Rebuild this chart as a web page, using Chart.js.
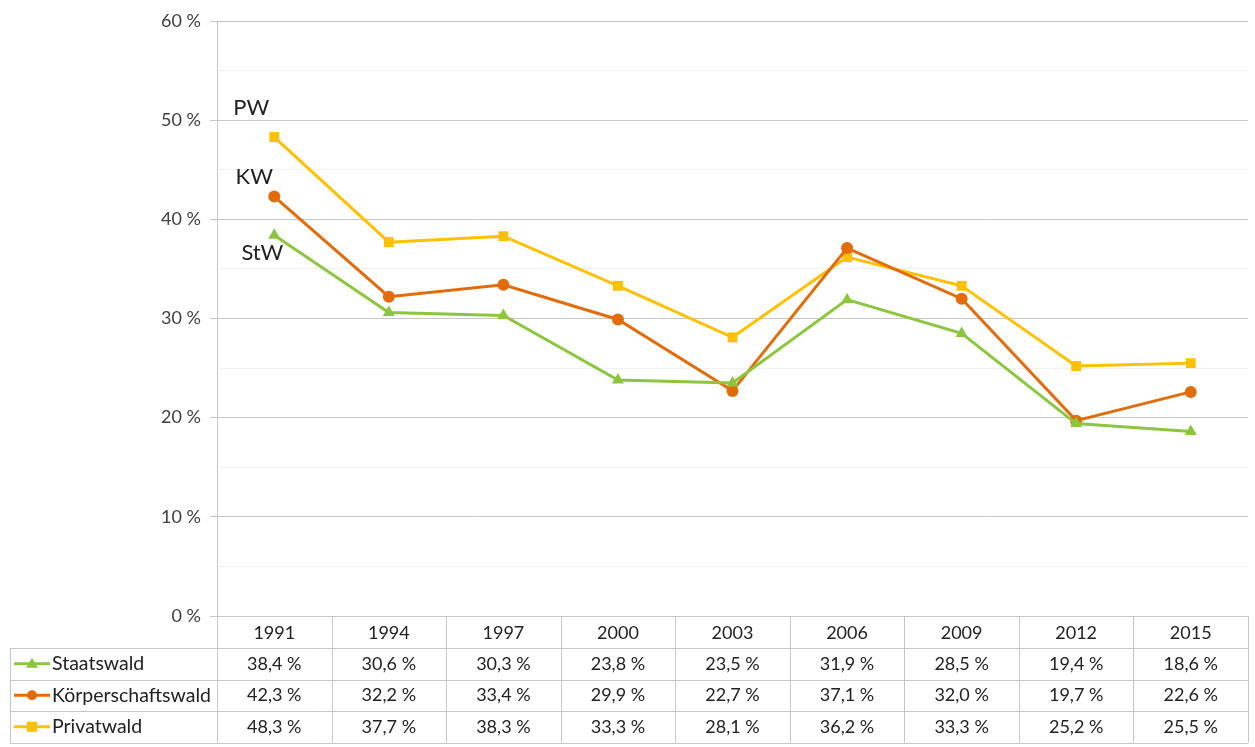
<!DOCTYPE html>
<html lang="de">
<head>
  <meta charset="UTF-8" />
  <title>Waldbesitzarten</title>
  <script src="https://cdn.jsdelivr.net/npm/chart.js"></script>
  <style>
    html, body { margin: 0; padding: 0; background: #fff; }
    #wrap { width: 1255px; height: 747px; position: relative; }
  </style>
</head>
<body>
<div id="wrap"><canvas id="chart" width="1255" height="747"></canvas></div>
<script>
  // data
  const years = ["1991", "1994", "1997", "2000", "2003", "2006", "2009", "2012", "2015"];
  const staatswald = [38.4, 30.6, 30.3, 23.8, 23.5, 31.9, 28.5, 19.4, 18.6];
  const koerperschaftswald = [42.3, 32.2, 33.4, 29.9, 22.7, 37.1, 32.0, 19.7, 22.6];
  const privatwald = [48.3, 37.7, 38.3, 33.3, 28.1, 36.2, 33.3, 25.2, 25.5];
  const seriesNames = ["Staatswald", "Körperschaftswald", "Privatwald"];
  const shortNames = ["StW", "KW", "PW"];
  const yTicks = [0, 10, 20, 30, 40, 50, 60];

  const FONT = "Lato, 'Open Sans', sans-serif";
  const colors = ["#8cc63f", "#e36c0a", "#ffc000"];
  const fmt = v => v.toFixed(1).replace(".", ",") + " %";

  // table under the plot + short labels next to 1991
  const tablePlugin = {
    id: "tablePlugin",
    afterDraw(chart) {
      const ctx = chart.ctx;
      const x = chart.scales.x, y = chart.scales.y;
      const area = chart.chartArea;
      const n = years.length;
      const colW = (area.right - area.left) / n;
      const top = area.bottom;
      const headH = 32, rowH = 31.5;
      const tableLeft = 10;
      const bottom = top + headH + rowH * 3;

      ctx.save();
      ctx.strokeStyle = "#c6c6c6";
      ctx.lineWidth = 1;
      ctx.beginPath();
      // verticals
      for (let i = 0; i <= n; i++) {
        const px = Math.round(area.left + i * colW) + 0.5;
        ctx.moveTo(px, top); ctx.lineTo(px, bottom);
      }
      ctx.moveTo(tableLeft + 0.5, top + headH); ctx.lineTo(tableLeft + 0.5, bottom);
      // horizontals
      for (let r = 0; r <= 3; r++) {
        const py = Math.round(top + headH + r * rowH) + 0.5;
        ctx.moveTo(tableLeft, py); ctx.lineTo(area.right, py);
      }
      ctx.stroke();

      ctx.fillStyle = "#222";
      ctx.font = "18px " + FONT;
      ctx.textAlign = "center";
      ctx.textBaseline = "middle";
      years.forEach((yr, i) => {
        ctx.fillText(yr, x.getPixelForValue(i), top + headH / 2 + 1);
      });
      const all = [staatswald, koerperschaftswald, privatwald];
      all.forEach((vals, r) => {
        const cy = top + headH + r * rowH + rowH / 2;
        ctx.font = "18px " + FONT;
        vals.forEach((v, i) => {
          ctx.fillStyle = "#222";
          ctx.textAlign = "center";
          ctx.fillText(fmt(v), x.getPixelForValue(i), cy);
        });
        // legend key
        ctx.strokeStyle = colors[r];
        ctx.lineWidth = 3;
        ctx.beginPath();
        ctx.moveTo(tableLeft + 4, cy); ctx.lineTo(tableLeft + 40, cy);
        ctx.stroke();
        ctx.fillStyle = colors[r];
        const mx = tableLeft + 22;
        ctx.beginPath();
        if (r === 0) { ctx.moveTo(mx, cy - 6); ctx.lineTo(mx + 6, cy + 4); ctx.lineTo(mx - 6, cy + 4); ctx.closePath(); }
        else if (r === 1) { ctx.arc(mx, cy, 5, 0, Math.PI * 2); }
        else { ctx.rect(mx - 5, cy - 5, 10, 10); }
        ctx.fill();
        ctx.fillStyle = "#222";
        ctx.textAlign = "left";
        ctx.font = "19.5px " + FONT;
        ctx.fillText(seriesNames[r], tableLeft + 42, cy);
      });

      // short labels at the first point
      ctx.font = "22px " + FONT;
      ctx.fillStyle = "#222";
      ctx.textAlign = "center";
      const x0 = x.getPixelForValue(0);
      ctx.fillText(shortNames[2], x0 - 23, y.getPixelForValue(privatwald[0] + 2.9));
      ctx.fillText(shortNames[1], x0 - 20, y.getPixelForValue(koerperschaftswald[0] + 2.0));
      ctx.fillText(shortNames[0], x0 - 12, y.getPixelForValue(staatswald[0] - 1.8));
      ctx.restore();
    }
  };

  const ds = (label, data, color, style) => ({
    label, data,
    borderColor: color,
    backgroundColor: color,
    borderWidth: 3,
    pointStyle: style,
    pointRadius: style === "circle" ? 6 : 7,
    pointBorderWidth: 0,
    tension: 0
  });

  new Chart(document.getElementById("chart"), {
    type: "line",
    data: {
      labels: years,
      datasets: [
        ds(seriesNames[0], staatswald, colors[0], "triangle"),
        ds(seriesNames[1], koerperschaftswald, colors[1], "circle"),
        ds(seriesNames[2], privatwald, colors[2], "rect")
      ]
    },
    options: {
      responsive: false,
      animation: false,
      layout: { padding: { top: 21, right: 5, bottom: 131, left: 0 } },
      plugins: { legend: { display: false }, tooltip: { enabled: false } },
      scales: {
        x: {
          display: false,
          offset: true
        },
        y: {
          min: 0, max: 60,
          afterFit: s => { s.width = 217; },
          border: { display: true, color: "#c6c6c6" },
          grid: {
            color: c => (c.tick.value % 10 === 0 ? "#c6c6c6" : "#f1f1f1"),
            tickColor: c => (c.tick.value % 10 === 0 ? "#c6c6c6" : "rgba(0,0,0,0)"),
            tickLength: 7
          },
          ticks: {
            stepSize: 5,
            padding: 9,
            color: "#404040",
            font: { family: FONT, size: 18 },
            callback: v => (yTicks.includes(v) ? v + " %" : "")
          }
        }
      }
    },
    plugins: [tablePlugin]
  });
</script>
</body>
</html>
